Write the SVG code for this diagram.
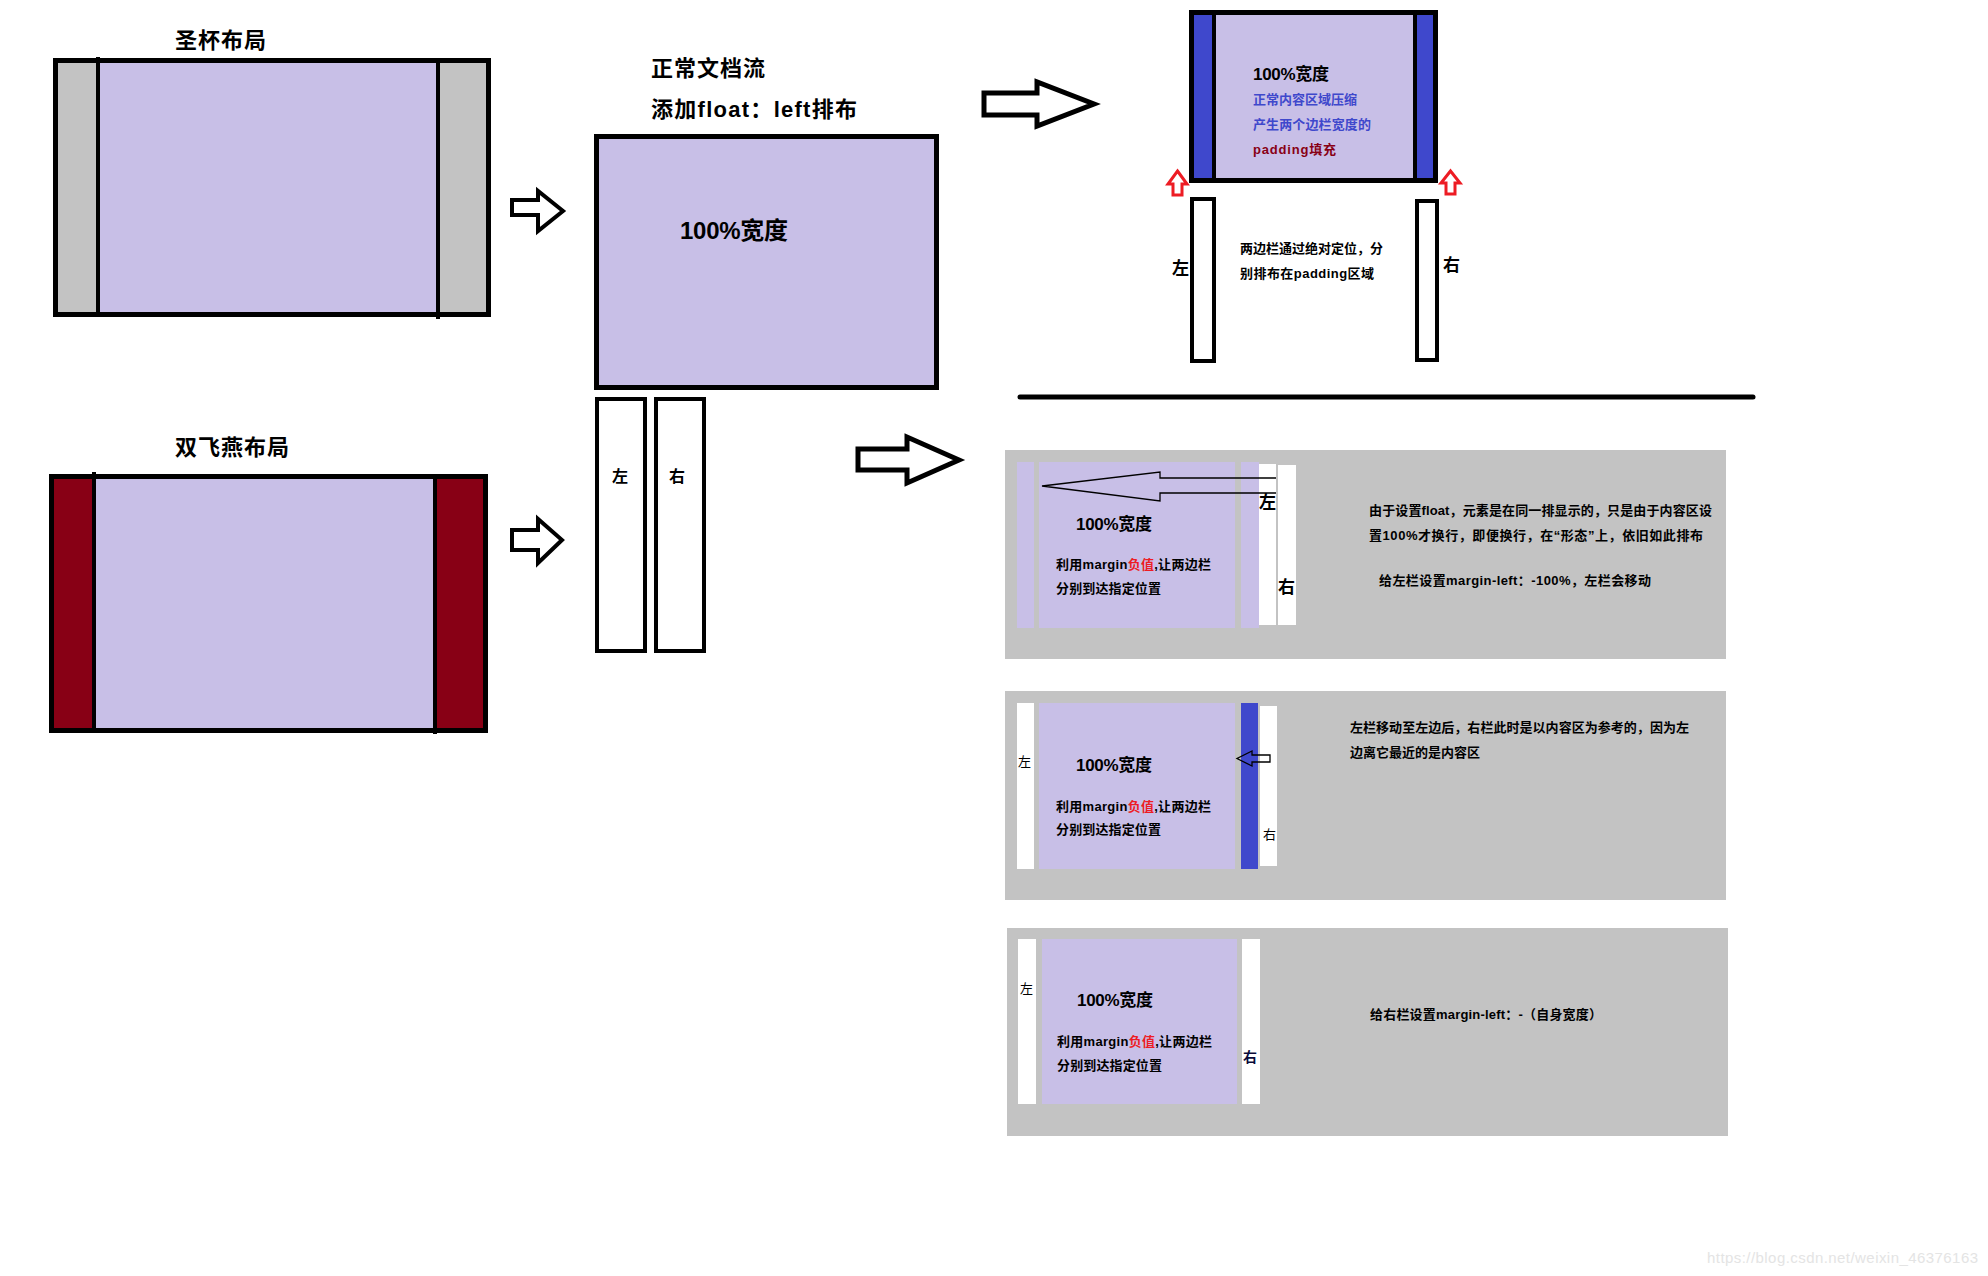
<svg xmlns="http://www.w3.org/2000/svg" width="1988" height="1276" viewBox="0 0 1988 1276">
<style>
text{font-family:"Liberation Sans","Noto Sans CJK SC",sans-serif;fill:#000}
.b{font-weight:bold}
.title{font-size:22px;font-weight:bold}
.s13{font-size:13px;font-weight:bold}
.s17{font-size:17px;font-weight:bold}
.lav{fill:#c8bfe7}
.gray{fill:#c3c3c3}
.blue{fill:#3f48cc}
.dred{fill:#880015}
.wh{fill:#ffffff}
.box{fill:none;stroke:#000;stroke-width:5}
.col{fill:#fff;stroke:#000;stroke-width:4}
.div{stroke:#000;stroke-width:4}
.blk{fill:#fff;stroke:#000;stroke-width:5;stroke-linejoin:miter}
.thin{fill:none;stroke:#000;stroke-width:1.3}
.redup{fill:#fff;stroke:#ed1c24;stroke-width:3;stroke-linejoin:miter}
</style>

<g id="holy-grail">
<text class="title" x="175" y="48" textLength="91">圣杯布局</text>
<rect class="gray" x="55" y="60" width="434" height="255"/>
<rect class="lav" x="98" y="60" width="340" height="255"/>
<line class="div" x1="98" y1="57" x2="98" y2="316"/>
<line class="div" x1="438" y1="60" x2="438" y2="319"/>
<rect class="box" x="55.5" y="60.5" width="433" height="254"/>
</g>

<g id="double-wing">
<text class="title" x="175" y="455" textLength="114">双飞燕布局</text>
<rect class="dred" x="51" y="476" width="435" height="255"/>
<rect class="lav" x="94" y="476" width="341" height="255"/>
<line class="div" x1="94" y1="472" x2="94" y2="731"/>
<line class="div" x1="435" y1="476" x2="435" y2="734"/>
<rect class="box" x="51.5" y="476.5" width="434" height="254"/>
</g>

<g id="float-flow">
<text class="title" x="651" y="76" textLength="114">正常文档流</text>
<text class="title" x="651" y="117" textLength="206">添加float：left排布</text>
<rect class="lav" x="596" y="136" width="341" height="252"/>
<rect class="box" x="596.5" y="136.5" width="340" height="251"/>
<text class="b" x="680" y="239" font-size="24" textLength="108">100%宽度</text>
<rect class="col" x="597" y="399" width="48" height="252"/>
<text class="b" x="612" y="482" font-size="16">左</text>
<rect class="col" x="656" y="399" width="48" height="252"/>
<text class="b" x="669" y="482" font-size="16">右</text>
</g>

<g id="holy-grail-result">
<rect class="blue" x="1191" y="12" width="23" height="169"/>
<rect class="lav" x="1214" y="12" width="201" height="169"/>
<rect class="blue" x="1415" y="12" width="21" height="169"/>
<line class="div" x1="1214" y1="12" x2="1214" y2="181"/>
<line class="div" x1="1415" y1="12" x2="1415" y2="181"/>
<rect class="box" x="1191.5" y="12.5" width="244" height="168"/>
<text class="s17" x="1253" y="80" textLength="76">100%宽度</text>
<text class="s13" x="1253" y="104" textLength="104" style="fill:#3f48cc">正常内容区域压缩</text>
<text class="s13" x="1253" y="129" textLength="118" style="fill:#3f48cc">产生两个边栏宽度的</text>
<text class="s13" x="1253" y="154" textLength="83" style="fill:#880015">padding填充</text>
<polygon class="redup" points="1177.5,171 1187,184 1182,184 1182,195 1173,195 1173,184 1168,184"/>
<polygon class="redup" points="1450.5,171 1460,183 1455,183 1455,194 1446,194 1446,183 1441,183"/>
<rect class="col" x="1192" y="199" width="22" height="162"/>
<rect class="col" x="1417" y="201" width="20" height="159"/>
<text class="s17" x="1172" y="274">左</text>
<text class="s17" x="1443" y="271">右</text>
<text class="s13" x="1240" y="253" textLength="143">两边栏通过绝对定位，分</text>
<text class="s13" x="1240" y="278" textLength="134">别排布在padding区域</text>
</g>

<line id="divider" x1="1020" y1="397" x2="1753" y2="397" stroke="#000" stroke-width="5" stroke-linecap="round"/>

<g id="step1">
<rect class="gray" x="1005" y="450" width="721" height="209"/>
<rect class="lav" x="1017" y="462" width="17" height="166"/>
<rect class="lav" x="1039" y="462" width="196" height="166"/>
<rect class="lav" x="1241" y="462" width="18" height="166"/>
<rect class="wh" x="1259" y="464" width="17" height="161"/>
<rect class="wh" x="1278" y="465" width="18" height="160"/>
<polyline class="thin" points="1276,478 1160,478 1160,472 1042,486 1160,501 1160,493 1276,493"/>
<text class="s17" x="1259" y="508">左</text>
<text class="s17" x="1278" y="593">右</text>
<text class="s17" x="1076" y="530" textLength="76">100%宽度</text>
<text class="s13" x="1056" y="569" textLength="155">利用margin<tspan style="fill:#ed1c24">负值</tspan>,让两边栏</text>
<text class="s13" x="1056" y="593" textLength="105">分别到达指定位置</text>
<text class="s13" x="1369" y="515" textLength="343">由于设置float，元素是在同一排显示的，只是由于内容区设</text>
<text class="s13" x="1369" y="540" textLength="334">置100%才换行，即便换行，在“形态”上，依旧如此排布</text>
<text class="s13" x="1379" y="585" textLength="272">给左栏设置margin-left：-100%，左栏会移动</text>
</g>

<g id="step2">
<rect class="gray" x="1005" y="691" width="721" height="209"/>
<rect class="wh" x="1017" y="703" width="17" height="166"/>
<rect class="lav" x="1039" y="703" width="196" height="166"/>
<rect class="blue" x="1241" y="703" width="17" height="166"/>
<rect class="wh" x="1260" y="706" width="17" height="160"/>
<polygon class="thin" points="1270,755 1252,755 1252,751 1237,758.5 1252,766 1252,762 1270,762"/>
<text x="1018" y="766" font-size="13">左</text>
<text x="1263" y="839" font-size="13">右</text>
<text class="s17" x="1076" y="771" textLength="76">100%宽度</text>
<text class="s13" x="1056" y="811" textLength="155">利用margin<tspan style="fill:#ed1c24">负值</tspan>,让两边栏</text>
<text class="s13" x="1056" y="834" textLength="105">分别到达指定位置</text>
<text class="s13" x="1350" y="732" textLength="339">左栏移动至左边后，右栏此时是以内容区为参考的，因为左</text>
<text class="s13" x="1350" y="757" textLength="130">边离它最近的是内容区</text>
</g>

<g id="step3">
<rect class="gray" x="1007" y="928" width="721" height="208"/>
<rect class="wh" x="1018" y="939" width="18" height="165"/>
<rect class="lav" x="1042" y="939" width="195" height="165"/>
<rect class="wh" x="1242" y="939" width="18" height="165"/>
<text x="1020" y="993" font-size="13">左</text>
<text class="b" x="1243" y="1062" font-size="14" style="fill:#0a0a3a">右</text>
<text class="s17" x="1077" y="1006" textLength="76">100%宽度</text>
<text class="s13" x="1057" y="1046" textLength="155">利用margin<tspan style="fill:#ed1c24">负值</tspan>,让两边栏</text>
<text class="s13" x="1057" y="1070" textLength="105">分别到达指定位置</text>
<text class="s13" x="1370" y="1019" textLength="232">给右栏设置margin-left：-（自身宽度）</text>
</g>

<g id="connectors">
<path class="blk" d="M512,200 L538,200 L538,191 L563,211 L538,231 L538,215 L512,215 Z" style="stroke-width:4"/>
<path class="blk" d="M512,530 L538,530 L538,519 L562,540 L538,563 L538,550 L512,550 Z" style="stroke-width:4"/>
<path class="blk" d="M858,449 L907,449 L907,437 L959,460 L907,483 L907,470 L858,470 Z"/>
<path class="blk" d="M984,93 L1037,93 L1037,82 L1094,104 L1037,126 L1037,115 L984,115 Z"/>
</g>

<text x="1707" y="1263" font-size="15" textLength="271" style="fill:#e4e4e4">https://blog.csdn.net/weixin_46376163</text>
</svg>
